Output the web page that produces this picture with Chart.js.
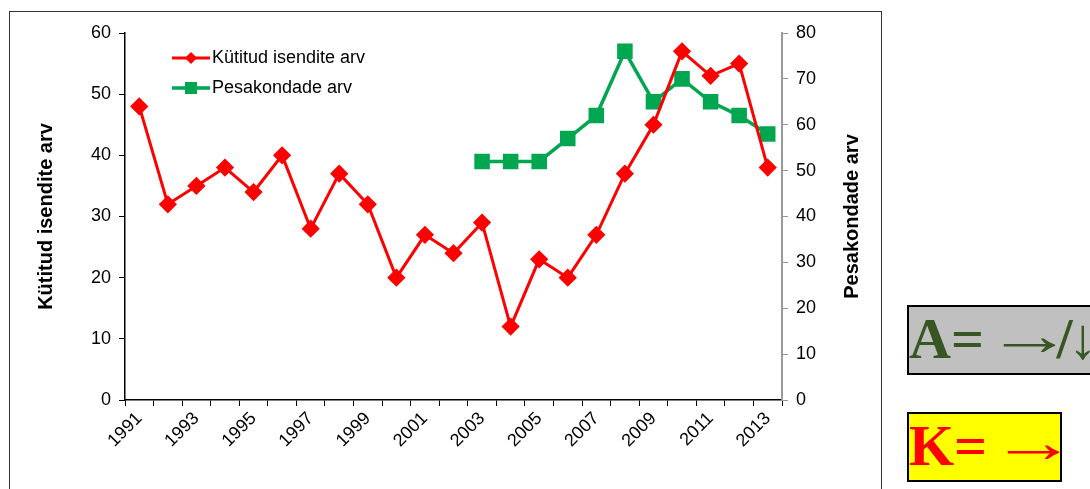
<!DOCTYPE html>
<html>
<head>
<meta charset="utf-8">
<script src="https://cdn.jsdelivr.net/npm/chart.js@4/dist/chart.umd.min.js"></script>
<style>
  html, body { margin: 0; padding: 0; background: #fff; overflow: hidden; }
  body { width: 1090px; height: 489px; position: relative; font-family: "Liberation Sans", Arial, sans-serif; }
  #frame { position: absolute; left: 9px; top: 11px; width: 873px; height: 490px; border: 1px solid #333; box-sizing: border-box; }
  #wrap { position: absolute; left: 10px; top: 12px; width: 870px; height: 477px; }
  .badge { position: absolute; box-sizing: border-box; border: 2px solid #000; font-family: "Liberation Serif", "Times New Roman", serif; font-weight: bold; white-space: nowrap; overflow: hidden; }
  .badge .arr { display: inline-block; font-weight: normal; transform: scaleX(1.5); transform-origin: left center; position: relative; top: -3px; }
  .badge .down { display: inline-block; font-weight: normal; }
  #badgeA { left: 907px; top: 305px; width: 200px; height: 70px; background: #c0c0c0; color: #375623; font-size: 58px; line-height: 64px; }
  #badgeK { left: 907px; top: 412px; width: 155px; height: 70px; background: #ffff00; color: #ff0000; font-size: 58px; line-height: 64px; }
</style>
</head>
<body>
<div id="frame"></div>
<div id="wrap"><canvas id="chart"></canvas></div>
<div class="badge" id="badgeA">A= <span class="arr" style="margin-left:-12px">→</span><span style="margin-left:12px">/</span><span class="down" style="margin-left:-4px">↓</span></div>
<div class="badge" id="badgeK">K= <span class="arr" style="margin-left:-12px">→</span></div>
<script>
// andmed
const years = ['1991','1992','1993','1994','1995','1996','1997','1998','1999','2000','2001','2002',
               '2003','2004','2005','2006','2007','2008','2009','2010','2011','2012','2013'];
const kutitud = [48, 32, 35, 38, 34, 40, 28, 37, 32, 20, 27, 24, 29, 12, 23, 20, 27, 37, 45, 57, 53, 55, 38];
const pesakonnad = [null, null, null, null, null, null, null, null, null, null, null, null,
                    52, 52, 52, 57, 62, 76, 65, 70, 65, 62, 58];
const seriesNames = ['Kütitud isendite arv', 'Pesakondade arv'];

const RED = '#ff0000';
const GREEN = '#00a650';
const tickFont = { family: 'Liberation Sans', size: 18 };
const titleFont = { family: 'Liberation Sans', size: 20, weight: 'bold' };

// legend inside the plot, Excel style (line with marker)
// + right axis title reading bottom-to-top like the left one
const insideLegend = {
  id: 'insideLegend',
  afterDraw(chart) {
    const ctx = chart.ctx;
    const a = chart.chartArea;
    const x0 = a.left + 47, x1 = a.left + 85;
    chart.data.datasets.forEach((ds, i) => {
      const y = a.top + 25 + i * 30;
      ctx.save();
      ctx.strokeStyle = ds.borderColor;
      ctx.lineWidth = ds.borderWidth;
      ctx.beginPath();
      ctx.moveTo(x0, y);
      ctx.lineTo(x1, y);
      ctx.stroke();
      ctx.fillStyle = ds.pointBackgroundColor;
      const cx = (x0 + x1) / 2;
      if (ds.pointStyle === 'rectRot') {
        const r = 6;
        ctx.beginPath();
        ctx.moveTo(cx, y - r); ctx.lineTo(cx + r, y); ctx.lineTo(cx, y + r); ctx.lineTo(cx - r, y);
        ctx.closePath();
        ctx.fill();
      } else {
        ctx.fillRect(cx - 6, y - 6, 12, 12);
      }
      ctx.fillStyle = '#000';
      ctx.font = '18px "Liberation Sans"';
      ctx.textBaseline = 'middle';
      ctx.textAlign = 'left';
      ctx.fillText(ds.label, x1 + 2, y);
      ctx.restore();
    });

    ctx.save();
    ctx.translate(chart.scales.y2.right - 28, (a.top + a.bottom) / 2);
    ctx.rotate(-Math.PI / 2);
    ctx.fillStyle = '#000';
    ctx.font = 'bold 20px "Liberation Sans"';
    ctx.textAlign = 'center';
    ctx.textBaseline = 'middle';
    ctx.fillText(seriesNames[1], 0, 0);
    ctx.restore();
  }
};

new Chart(document.getElementById('chart'), {
  type: 'line',
  data: {
    labels: years,
    datasets: [
      {
        label: seriesNames[0],
        data: kutitud,
        yAxisID: 'y',
        borderColor: RED,
        backgroundColor: RED,
        pointBackgroundColor: RED,
        pointBorderColor: RED,
        borderWidth: 3,
        pointStyle: 'rectRot',
        pointRadius: 7,
        tension: 0
      },
      {
        label: seriesNames[1],
        data: pesakonnad,
        yAxisID: 'y2',
        borderColor: GREEN,
        backgroundColor: GREEN,
        pointBackgroundColor: GREEN,
        pointBorderColor: GREEN,
        borderWidth: 3.5,
        pointStyle: 'rect',
        pointRadius: 8.5,
        tension: 0,
        spanGaps: false
      }
    ]
  },
  options: {
    responsive: true,
    maintainAspectRatio: false,
    animation: false,
    layout: { padding: { top: 21, right: 0, left: 0, bottom: 0 } },
    plugins: {
      legend: { display: false },
      tooltip: { enabled: false }
    },
    scales: {
      x: {
        type: 'category',
        offset: true,
        afterFit(s) { s.height = 89; },
        grid: { offset: true, drawOnChartArea: false, drawTicks: true, tickLength: 6, color: '#000', lineWidth: 1 },
        border: { color: '#000', width: 1.5 },
        ticks: {
          autoSkip: false,
          maxRotation: 45,
          minRotation: 45,
          padding: 2,
          color: '#000',
          font: tickFont,
          callback: (v, i) => (i % 2 === 0 ? years[i] : '')
        }
      },
      y: {
        position: 'left',
        min: 0,
        max: 60,
        afterFit(s) { s.width = 115; },
        grid: { drawOnChartArea: false, tickLength: 6, color: '#000' },
        border: { color: '#000', width: 1.5 },
        ticks: { stepSize: 10, color: '#000', font: tickFont, padding: 8 },
        title: { display: true, text: seriesNames[0], color: '#000', font: titleFont, padding: { top: 24, bottom: 0 } }
      },
      y2: {
        position: 'right',
        min: 0,
        max: 80,
        afterFit(s) { s.width = 98; },
        grid: { drawOnChartArea: false, tickLength: 6, color: '#999' },
        border: { color: '#999', width: 2 },
        ticks: { stepSize: 10, color: '#000', font: tickFont, padding: 8 },
        title: { display: false }
      }
    }
  },
  plugins: [insideLegend]
});
</script>
</body>
</html>
